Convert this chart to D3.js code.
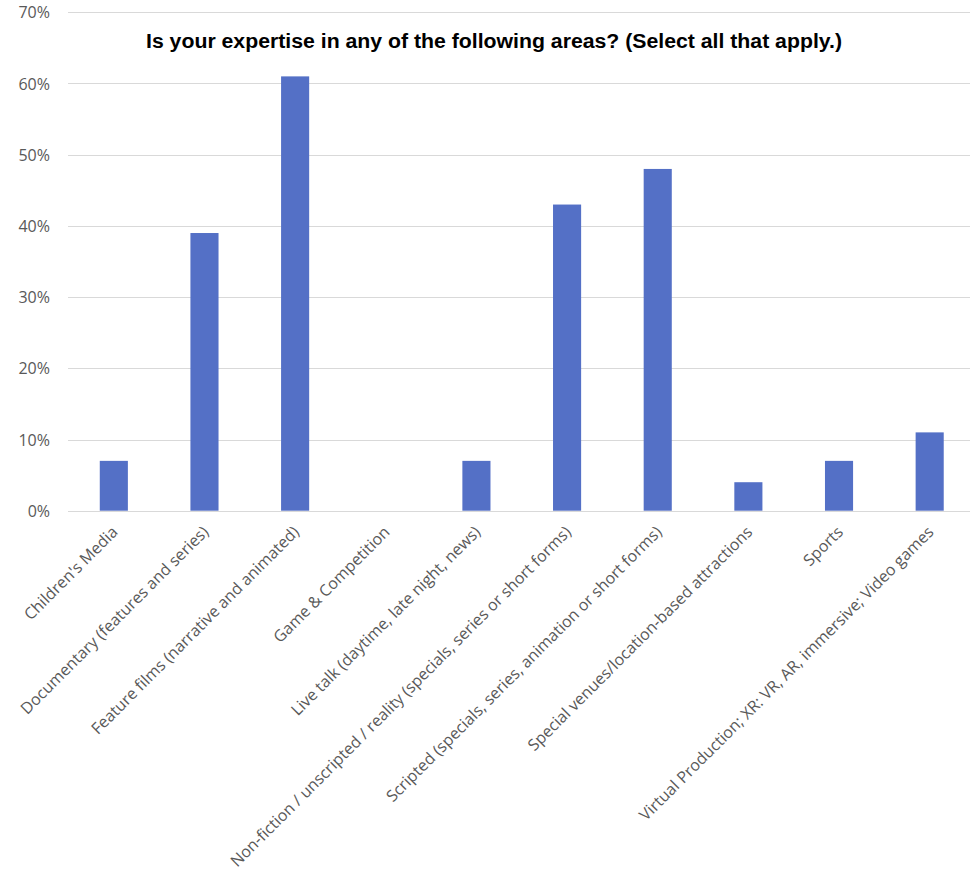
<!DOCTYPE html>
<html>
<head>
<meta charset="utf-8">
<script src="https://cdn.jsdelivr.net/npm/d3@7"></script>
<style>
  html, body { margin: 0; padding: 0; background: #ffffff; }
  svg { display: block; }
</style>
</head>
<body>
<div id="chart"></div>
<script>
const title = "Is your expertise in any of the following areas? (Select all that apply.)";
const categories = [
  "Children's Media",
  "Documentary (features and series)",
  "Feature films (narrative and animated)",
  "Game & Competition",
  "Live talk (daytime, late night, news)",
  "Non-fiction / unscripted / reality (specials, series or short forms)",
  "Scripted (specials, series, animation or short forms)",
  "Special venues/location-based attractions",
  "Sports",
  "Virtual Production; XR: VR, AR, immersive; Video games"
];
const values = [0.07, 0.39, 0.61, 0.00, 0.07, 0.43, 0.48, 0.04, 0.07, 0.11];
const yTicks = [0, 0.1, 0.2, 0.3, 0.4, 0.5, 0.6, 0.7];

const W = 970, H = 873;
const svg = d3.select("#chart").append("svg").attr("width", W).attr("height", H);

const x = d3.scaleBand().domain(categories).range([68.5, 975]).paddingInner(0.69).paddingOuter(0.345);
const y = d3.scaleLinear().domain([0, 0.7]).range([510.7, 12.3]);

// y tick labels
const yAxis = d3.axisLeft(y).tickValues(yTicks).tickFormat(d3.format(".0%")).tickSize(0).tickPadding(0);
const gy = svg.append("g").attr("transform", "translate(50,0)").call(yAxis);
gy.select(".domain").remove();
gy.selectAll("text").attr("font-family", "'Open Sans', sans-serif").attr("font-size", 16).attr("fill", "#595959").attr("dy", "0.35em");

// gridlines
svg.append("g").selectAll("line").data(yTicks).join("line")
  .attr("x1", 68).attr("x2", 970)
  .attr("y1", d => Math.round(y(d)) + 0.5).attr("y2", d => Math.round(y(d)) + 0.5)
  .attr("stroke", "#d9d9d9").attr("stroke-width", 1);

// bars
svg.append("g").selectAll("rect").data(categories).join("rect")
  .attr("x", d => x(d))
  .attr("width", x.bandwidth())
  .attr("y", (d, i) => y(values[i]))
  .attr("height", (d, i) => y(0) - y(values[i]))
  .attr("fill", "#5470c6");

// x labels
const xAxis = d3.axisBottom(x).tickSize(0).tickPadding(0);
const gx = svg.append("g").attr("transform", "translate(0,511)").call(xAxis);
gx.select(".domain").remove();
gx.selectAll("text")
  .attr("font-family", "'Open Sans', sans-serif").attr("font-size", 16).attr("fill", "#595959")
  .attr("text-anchor", "end")
  .attr("dy", null).attr("y", 0)
  .attr("transform", "translate(5,22) rotate(-45)");

// title
svg.append("text").attr("x", 494).attr("y", 48).attr("text-anchor", "middle")
  .attr("font-family", "'Liberation Sans', Arial, sans-serif").attr("font-weight", "bold")
  .attr("font-size", 20).attr("textLength", 696).attr("lengthAdjust", "spacingAndGlyphs")
  .attr("fill", "#000").text(title);
</script>
</body>
</html>
